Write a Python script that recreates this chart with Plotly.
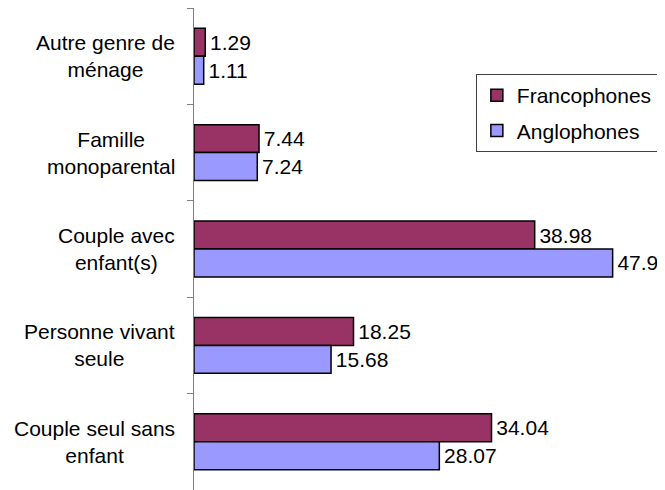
import plotly.graph_objects as go

# Household types (top to bottom) and shares in %
categories = ["Autre genre de<br>ménage",
              "Famille<br>monoparental",
              "Couple avec<br>enfant(s)",
              "Personne vivant<br>seule",
              "Couple seul sans<br>enfant"]
francophones = [1.29, 7.44, 38.98, 18.25, 34.04]
anglophones = [1.11, 7.24, 47.9, 15.68, 28.07]

font_family = "Liberation Sans, Arial, sans-serif"

fig = go.Figure()
fig.add_trace(go.Bar(y=categories, x=francophones, orientation="h",
                     name="Francophones", legendgroup="f",
                     marker=dict(color="#993366", line=dict(color="black", width=1.5)),
                     text=["\u200a" + str(v) for v in francophones],
                     textposition="outside", cliponaxis=False,
                     constraintext="none",
                     textfont=dict(size=21, color="black")))
fig.add_trace(go.Bar(y=categories, x=anglophones, orientation="h",
                     name="Anglophones", legendgroup="a",
                     marker=dict(color="#9999FF", line=dict(color="black", width=1.5)),
                     text=["\u200a" + str(v) for v in anglophones],
                     textposition="outside", cliponaxis=False,
                     constraintext="none",
                     textfont=dict(size=21, color="black")))

#Category labels as centred annotations
for c in categories:
    fig.add_annotation(x=0, xref="paper", y=c, yref="y",
                       text=c, showarrow=False, xanchor="right",
                       xshift=-17, align="center",
                       font=dict(size=21, color="black", family=font_family))

#page body has an 8px margin, so the figure is a bit smaller than the window
fig.update_layout(width=657, height=482,
                  margin=dict(l=186, r=34, t=0, b=0),
                  paper_bgcolor="white", plot_bgcolor="white",
                  barmode="group", bargap=0.42, bargroupgap=0,
                  font=dict(family=font_family, size=21, color="black"),
                  showlegend=True,
                  legend=dict(x=0.645, y=0.863, xanchor="left", yanchor="top",
                              bordercolor="#404040", borderwidth=1,
                              traceorder="grouped", tracegroupgap=5,
                              itemwidth=30,
                              font=dict(size=21)))
fig.update_xaxes(range=[0, 50], visible=False)
fig.update_yaxes(autorange="reversed", showticklabels=False,
                 showline=True, linecolor="#808080", linewidth=1,
                 ticks="outside", tickson="boundaries", ticklen=6,
                 tickcolor="#808080", showgrid=False)

fig.write_html("out.html")
